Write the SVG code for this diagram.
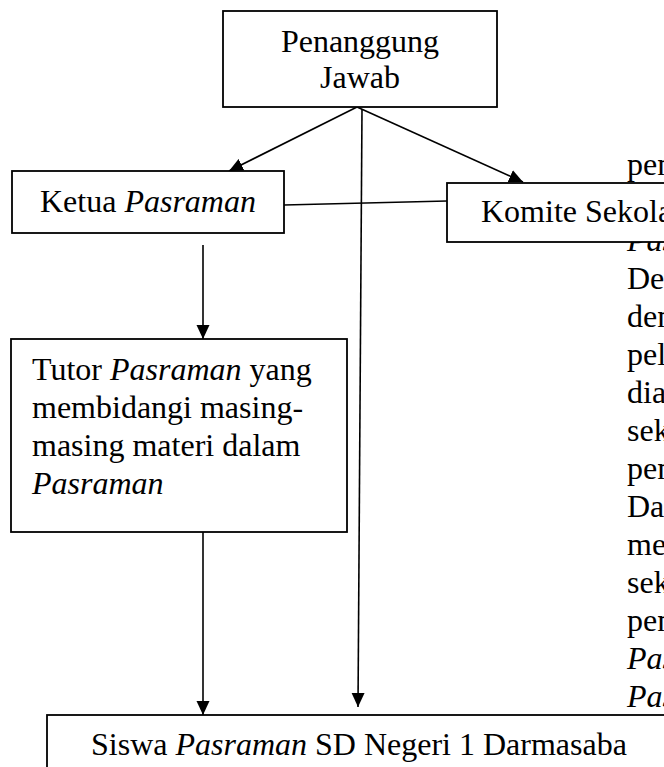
<svg xmlns="http://www.w3.org/2000/svg" width="664" height="767" viewBox="0 0 664 767">
<defs>
<style>
.box{fill:#fff;stroke:#000;stroke-width:1.8}
.t{font-family:"Liberation Serif","Times New Roman",serif;font-size:32px;fill:#000}
.i{font-style:italic}
.ln{fill:none;stroke:#000;stroke-width:1.6}
</style>
<marker id="ah" markerUnits="userSpaceOnUse" markerWidth="15" markerHeight="14" refX="14" refY="7" orient="auto">
<path d="M0,0.5 L14,7 L0,13.5 z" fill="#000"/>
</marker>
</defs>
<rect width="664" height="767" fill="#fff"/>
<g id="side-text" class="t">
<text x="627" y="175">pen</text>
<text x="627" y="251" class="i">Pas</text>
<text x="627" y="289">Den</text>
<text x="627" y="327">den</text>
<text x="627" y="365">pel</text>
<text x="627" y="403">dia</text>
<text x="627" y="441">sek</text>
<text x="627" y="479">pen</text>
<text x="627" y="517">Dal</text>
<text x="627" y="555">me</text>
<text x="627" y="593">sek</text>
<text x="627" y="631">pen</text>
<text x="627" y="669" class="i">Pas</text>
<text x="627" y="707" class="i">Pas</text>
</g>
<g id="connectors">
<line class="ln" x1="357" y1="107" x2="229" y2="171" marker-end="url(#ah)"/>
<line class="ln" x1="357" y1="107" x2="523" y2="182" marker-end="url(#ah)"/>
<line class="ln" x1="362" y1="109" x2="358" y2="707" marker-end="url(#ah)"/>
<line class="ln" x1="284" y1="205" x2="447" y2="201"/>
<line class="ln" x1="203" y1="245" x2="203" y2="339" marker-end="url(#ah)"/>
<line class="ln" x1="203" y1="532" x2="203" y2="715" marker-end="url(#ah)"/>
</g>
<g id="penanggung-jawab">
<rect class="box" x="223" y="11" width="274" height="96"/>
<text class="t" x="360" y="52" text-anchor="middle">Penanggung</text>
<text class="t" x="360" y="88" text-anchor="middle">Jawab</text>
</g>
<g id="ketua">
<rect class="box" x="12" y="171" width="272" height="62"/>
<text class="t" x="40" y="212">Ketua <tspan class="i">Pasraman</tspan></text>
</g>
<g id="komite">
<rect class="box" x="447" y="183" width="240" height="59"/>
<text class="t" x="481" y="222">Komite Sekolah</text>
</g>
<g id="tutor">
<rect class="box" x="11" y="339" width="336" height="193"/>
<text class="t" x="32" y="380">Tutor <tspan class="i">Pasraman</tspan> yang</text>
<text class="t" x="32" y="418">membidangi masing-</text>
<text class="t" x="32" y="456">masing materi dalam</text>
<text class="t i" x="32" y="494">Pasraman</text>
</g>
<g id="siswa">
<rect class="box" x="47" y="715" width="640" height="80"/>
<text class="t" x="91" y="755">Siswa <tspan class="i">Pasraman</tspan> SD Negeri 1 Darmasaba</text>
</g>
</svg>
